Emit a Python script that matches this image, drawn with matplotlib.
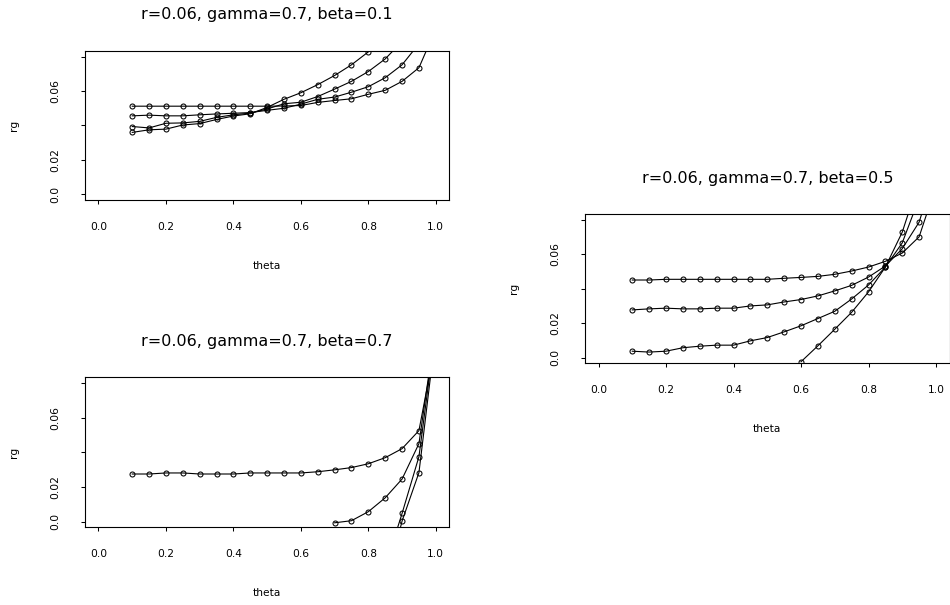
import numpy as np
import matplotlib
matplotlib.use("Agg")
import matplotlib.pyplot as plt

nan = np.nan

# growth rate rg as a function of theta, four series per beta value
theta = [0.10, 0.15, 0.20, 0.25, 0.30, 0.35, 0.40, 0.45, 0.50, 0.55,
         0.60, 0.65, 0.70, 0.75, 0.80, 0.85, 0.90, 0.95, 1.00]

beta01_a = [0.0512, 0.0512, 0.0512, 0.0512, 0.0512, 0.0512, 0.0512, 0.0512, 0.0512, 0.0513,
            0.0516, 0.0534, 0.0545, 0.0555, 0.0581, 0.0604, 0.0656, 0.0735, 0.0960]
beta01_b = [0.0456, 0.0460, 0.0456, 0.0456, 0.0462, 0.0467, 0.0471, 0.0475, 0.0488, 0.0500,
            0.0524, 0.0552, 0.0565, 0.0593, 0.0625, 0.0677, 0.0752, 0.0874, 0.1000]
beta01_c = [0.0394, 0.0386, 0.0413, 0.0415, 0.0424, 0.0447, 0.0462, 0.0472, 0.0496, 0.0526,
            0.0535, 0.0568, 0.0611, 0.0656, 0.0713, 0.0786, 0.0888, 0.1000, 0.1150]
beta01_d = [0.0360, 0.0375, 0.0379, 0.0403, 0.0411, 0.0435, 0.0455, 0.0468, 0.0505, 0.0552,
            0.0590, 0.0637, 0.0690, 0.0752, 0.0827, 0.0920, 0.1040, 0.1180, 0.1350]

beta05_a = [0.0450, 0.0450, 0.0454, 0.0454, 0.0454, 0.0454, 0.0454, 0.0454, 0.0454, 0.0460,
            0.0465, 0.0471, 0.0483, 0.0502, 0.0525, 0.0558, 0.0606, 0.0700, 0.0995]
beta05_b = [0.0277, 0.0283, 0.0287, 0.0283, 0.0283, 0.0287, 0.0287, 0.0300, 0.0306, 0.0323,
            0.0337, 0.0358, 0.0387, 0.0419, 0.0467, 0.0531, 0.0631, 0.0785, 0.1100]
beta05_c = [0.0038, 0.0033, 0.0038, 0.0058, 0.0067, 0.0073, 0.0073, 0.0098, 0.0117, 0.0150,
            0.0185, 0.0227, 0.0269, 0.0340, 0.0421, 0.0525, 0.0665, 0.0923, 0.1250]
beta05_d = [nan, nan, nan, nan, nan, nan, nan, nan, nan, nan,
            -0.0023, 0.0069, 0.0165, 0.0263, 0.0381, 0.0525, 0.0727, 0.1027, 0.1400]

beta07_a = [0.0275, 0.0275, 0.0281, 0.0281, 0.0275, 0.0275, 0.0275, 0.0281, 0.0281, 0.0281,
            0.0281, 0.0288, 0.0299, 0.0312, 0.0334, 0.0369, 0.0421, 0.0525, 0.1035]
beta07_b = [nan, nan, nan, nan, nan, nan, nan, nan, nan, nan,
            nan, nan, -0.0006, 0.0006, 0.0058, 0.0138, 0.0246, 0.0450, 0.1130]
beta07_c = [nan, nan, nan, nan, nan, nan, nan, nan, nan, nan,
            nan, nan, nan, nan, nan, -0.0260, 0.0048, 0.0375, 0.1115]
beta07_d = [nan, nan, nan, nan, nan, nan, nan, nan, nan, nan,
            nan, nan, nan, nan, nan, -0.0380, 0.0004, 0.0283, 0.1090]

titles = ["r=0.06, gamma=0.7, beta=0.1",
          "r=0.06, gamma=0.7, beta=0.5",
          "r=0.06, gamma=0.7, beta=0.7"]
x_label = "theta"
y_label = "rg"
x_ticks = [0.0, 0.2, 0.4, 0.6, 0.8, 1.0]
x_tick_labels = ["0.0", "0.2", "0.4", "0.6", "0.8", "1.0"]
y_ticks = [0.0, 0.02, 0.04, 0.06, 0.08]
y_tick_labels = ["0.0", "0.02", "", "0.06", ""]

W, H = 950, 605
fig = plt.figure(figsize=(W / 100, H / 100), dpi=100)
fig.patch.set_facecolor("white")

def axes_px(left, top, right, bottom):
    return fig.add_axes([left / W, 1 - bottom / H, (right - left) / W, (bottom - top) / H])

# plot-region boxes in pixels: left, top, right, bottom
boxes = [(85, 51, 449.3, 200),
         (585, 214, 949.5, 363.3),
         (85, 377.3, 449.3, 527.3)]
series = [[beta01_a, beta01_b, beta01_c, beta01_d],
          [beta05_a, beta05_b, beta05_c, beta05_d],
          [beta07_a, beta07_b, beta07_c, beta07_d]]

TICK_FS = 7.7
for box, title, group in zip(boxes, titles, series):
    left, top, right, bottom = box
    ax = axes_px(*box)
    w_px, h_px = right - left, bottom - top
    for ys in group:
        ax.plot(theta, ys, color="black", lw=0.8, marker="o", ms=3.6,
                mfc="none", mec="black", mew=0.75)
    ax.set_xlim(-0.04, 1.04)
    ax.set_ylim(-0.0032, 0.0832)
    ax.set_xticks(x_ticks)
    ax.set_xticklabels(x_tick_labels)
    ax.set_yticks(y_ticks)
    ax.set_yticklabels(y_tick_labels, rotation=90, va="center")
    ax.tick_params(axis="both", direction="out", length=4 * 0.72, width=0.75,
                   labelsize=TICK_FS, color="black")
    ax.tick_params(axis="x", pad=13)
    ax.tick_params(axis="y", pad=15)
    for sp in ax.spines.values():
        sp.set_linewidth(0.8)
        sp.set_color("black")
    ax.set_title(title, fontsize=11.5, y=1 + 36 / h_px, va="center", pad=0)
    ax.set_xlabel(x_label, fontsize=TICK_FS)
    ax.xaxis.set_label_coords(0.5, -66 / h_px)
    ax.xaxis.label.set_va("center")
    ax.set_ylabel(y_label, fontsize=TICK_FS)
    ax.yaxis.set_label_coords(-71 / w_px, 0.5)
    ax.yaxis.label.set_va("center")
    ax.yaxis.label.set_ha("center")

fig.savefig("out.png", dpi=100, facecolor="white")
